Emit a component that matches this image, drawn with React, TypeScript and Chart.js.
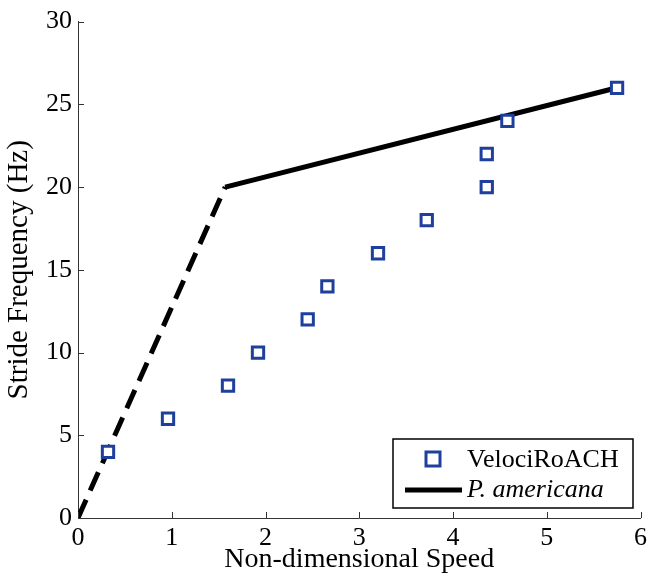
import React, { useEffect, useRef } from "react";
import { Chart, registerables } from "chart.js";

Chart.register(...registerables);

const roachSpeed = [0.32, 0.96, 1.6, 1.92, 2.45, 2.66, 3.2, 3.72, 4.36, 4.36, 4.58, 5.75];
const roachFreq = [4, 6, 8, 10, 12, 14, 16, 18, 20, 22, 24, 26];
const dashedSpeed = [0, 1.57];
const dashedFreq = [0, 20];
const solidSpeed = [1.57, 5.75];
const solidFreq = [20, 26];
const legendLabels = ["VelociRoACH", "P. americana"];

const SERIF = "'Liberation Serif', 'Times New Roman', serif";
const BLUE = "#1f3f9c";

const zip = (xs: number[], ys: number[]) => xs.map((x, i) => ({ x, y: ys[i] }));

const inwardTicks = {
  id: "inwardTicks",
  afterDraw(chart: any) {
    const { ctx, chartArea, scales } = chart;
    ctx.save();
    ctx.strokeStyle = "#333";
    ctx.lineWidth = 1;
    const xs = scales.x;
    xs.ticks.forEach((t: any) => {
      const px = Math.round(xs.getPixelForValue(t.value)) + 0.5;
      ctx.beginPath();
      ctx.moveTo(px, chartArea.bottom);
      ctx.lineTo(px, chartArea.bottom - 6);
      ctx.stroke();
    });
    const ys = scales.y;
    ys.ticks.forEach((t: any) => {
      const py = Math.round(ys.getPixelForValue(t.value)) + 0.5;
      ctx.beginPath();
      ctx.moveTo(chartArea.left, py);
      ctx.lineTo(chartArea.left + 6, py);
      ctx.stroke();
    });
    ctx.restore();
  },
};

const customLegend = {
  id: "customLegend",
  afterDraw(chart: any) {
    const { ctx } = chart;
    ctx.save();
    const bx = 393, by = 439, bw = 240, bh = 69;
    ctx.fillStyle = "#fff";
    ctx.fillRect(bx, by, bw, bh);
    ctx.strokeStyle = "#000";
    ctx.lineWidth = 1.5;
    ctx.strokeRect(bx, by, bw, bh);
    // marker
    ctx.strokeStyle = BLUE;
    ctx.lineWidth = 3;
    ctx.fillStyle = "#fff";
    ctx.fillRect(426, 452, 14, 14);
    ctx.strokeRect(426, 452, 14, 14);
    // line
    ctx.strokeStyle = "#000";
    ctx.lineWidth = 5;
    ctx.beginPath();
    ctx.moveTo(405, 490);
    ctx.lineTo(462, 490);
    ctx.stroke();
    ctx.fillStyle = "#000";
    ctx.textBaseline = "alphabetic";
    ctx.textAlign = "left";
    ctx.font = `26px ${SERIF}`;
    ctx.fillText(legendLabels[0], 467, 467);
    ctx.font = `italic 26px ${SERIF}`;
    ctx.fillText(legendLabels[1], 467, 497);
    ctx.restore();
  },
};

export default function App() {
  const ref = useRef<HTMLCanvasElement>(null);
  useEffect(() => {
    if (!ref.current) return;
    const chart = new Chart(ref.current, {
      type: "scatter",
      data: {
        datasets: [
          {
            label: legendLabels[0],
            data: zip(roachSpeed, roachFreq),
            pointStyle: "rect",
            pointRadius: 8,
            pointBorderWidth: 3,
            borderColor: BLUE,
            backgroundColor: "#fff",
            showLine: false,
          },
          {
            label: legendLabels[1],
            data: zip(solidSpeed, solidFreq),
            showLine: true,
            borderColor: "#000",
            borderWidth: 5,
            pointRadius: 0,
            borderCapStyle: "butt",
          },
          {
            label: "dashed",
            data: zip(dashedSpeed, dashedFreq),
            showLine: true,
            borderColor: "#000",
            borderWidth: 5,
            borderDash: [20, 10],
            pointRadius: 0,
            borderCapStyle: "butt",
          },
        ],
      },
      options: {
        animation: false,
        responsive: false,
        maintainAspectRatio: false,
        layout: { padding: { top: 20, right: 10, left: 0, bottom: 0 } },
        plugins: { legend: { display: false }, tooltip: { enabled: false } },
        scales: {
          x: {
            type: "linear",
            min: 0,
            max: 6,
            grid: { display: false, drawTicks: false },
            border: { display: true, color: "#333", width: 1 },
            ticks: {
              stepSize: 1,
              color: "#000",
              padding: 5,
              font: { family: SERIF, size: 26 },
            },
            title: {
              display: true,
              text: "Non-dimensional Speed",
              color: "#000",
              padding: { top: 0, bottom: 4 },
              font: { family: SERIF, size: 28 },
            },
            afterFit: (s: any) => {
              s.height = 62;
            },
          },
          y: {
            type: "linear",
            min: 0,
            max: 30,
            grid: { display: false, drawTicks: false },
            border: { display: true, color: "#333", width: 1 },
            ticks: {
              stepSize: 5,
              color: "#000",
              padding: 6,
              font: { family: SERIF, size: 26 },
            },
            title: {
              display: true,
              text: "Stride Frequency (Hz)",
              color: "#000",
              padding: { top: 2, bottom: 0 },
              font: { family: SERIF, size: 29 },
            },
            afterFit: (s: any) => {
              s.width = 78;
            },
          },
        },
      },
      plugins: [inwardTicks, customLegend],
    });
    return () => chart.destroy();
  }, []);
  return (
    <div style={{ position: "absolute", left: 0, top: 0, width: 652, height: 580, background: "#fff" }}>
      <canvas ref={ref} width={652} height={580} style={{ width: 652, height: 580, display: "block" }} />
    </div>
  );
}
